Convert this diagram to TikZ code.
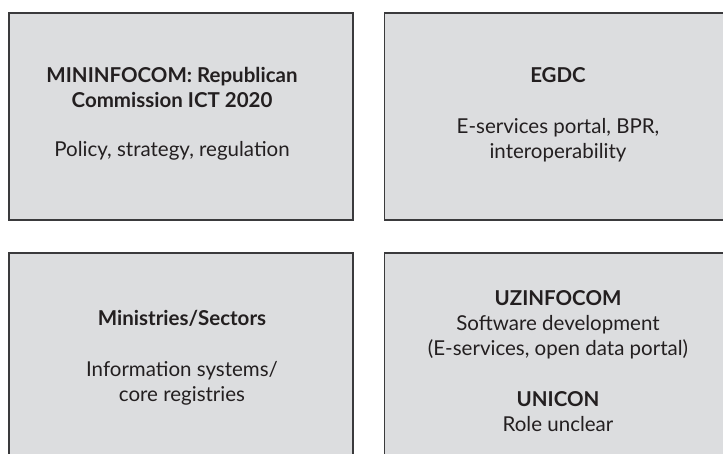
\documentclass[tikz,border=0pt]{standalone}
\usepackage{fontspec}
\setmainfont{Lato}
\usetikzlibrary{positioning,calc}
\definecolor{boxgray}{RGB}{220,221,223}
\definecolor{edgegray}{RGB}{58,58,60}
\definecolor{inkgray}{RGB}{35,31,32}

\begin{document}
\begin{tikzpicture}[x=1pt, y=-1pt,
    box/.style={rectangle, draw=edgegray, fill=boxgray, line width=1.3pt, minimum width=344pt, inner sep=0pt},
    label/.style={align=center, anchor=base, text=inkgray, font=\fontsize{20.5}{25}\selectfont, inner sep=0pt}
  ]
  \useasboundingbox (0,0) rectangle (723,453);
  \clip (0,0) rectangle (723,453);
  % boxes
  \node[box, minimum height=207pt] (policy) at (181,116.5) {};
  \node[box, minimum height=207pt] (egdc) at (556.5,116.5) {};
  \node[box, minimum height=217pt] (sectors) at (181,361.5) {};
  \node[box, minimum height=217pt] (operators) at (556.5,361.5) {};
  % texts (anchored at the last baseline)
  \node[label] (policytxt) at ([xshift=-9pt, yshift=-144pt]policy.north)
    {\bfseries MININFOCOM: Republican\\\bfseries Commission ICT 2020\\[24pt]Policy, strategy, regulation};
  \node[label] (egdctxt) at ([xshift=1.5pt, yshift=-146pt]egdc.north)
    {\bfseries EGDC\\[26pt]E-services portal, BPR,\\interoperability};
  \node[label] (sectorstxt) at ([xshift=1pt, yshift=-149pt]sectors.north)
    {\bfseries Ministries/Sectors\\[26pt]Information systems/\\core registries};
  \node[label] (operatorstxt) at ([xshift=1.5pt, yshift=-179pt]operators.north)
    {\bfseries UZINFOCOM\\Software development\\(E-services, open data portal)\\[26pt]\bfseries UNICON\\Role unclear};
\end{tikzpicture}
\end{document}
